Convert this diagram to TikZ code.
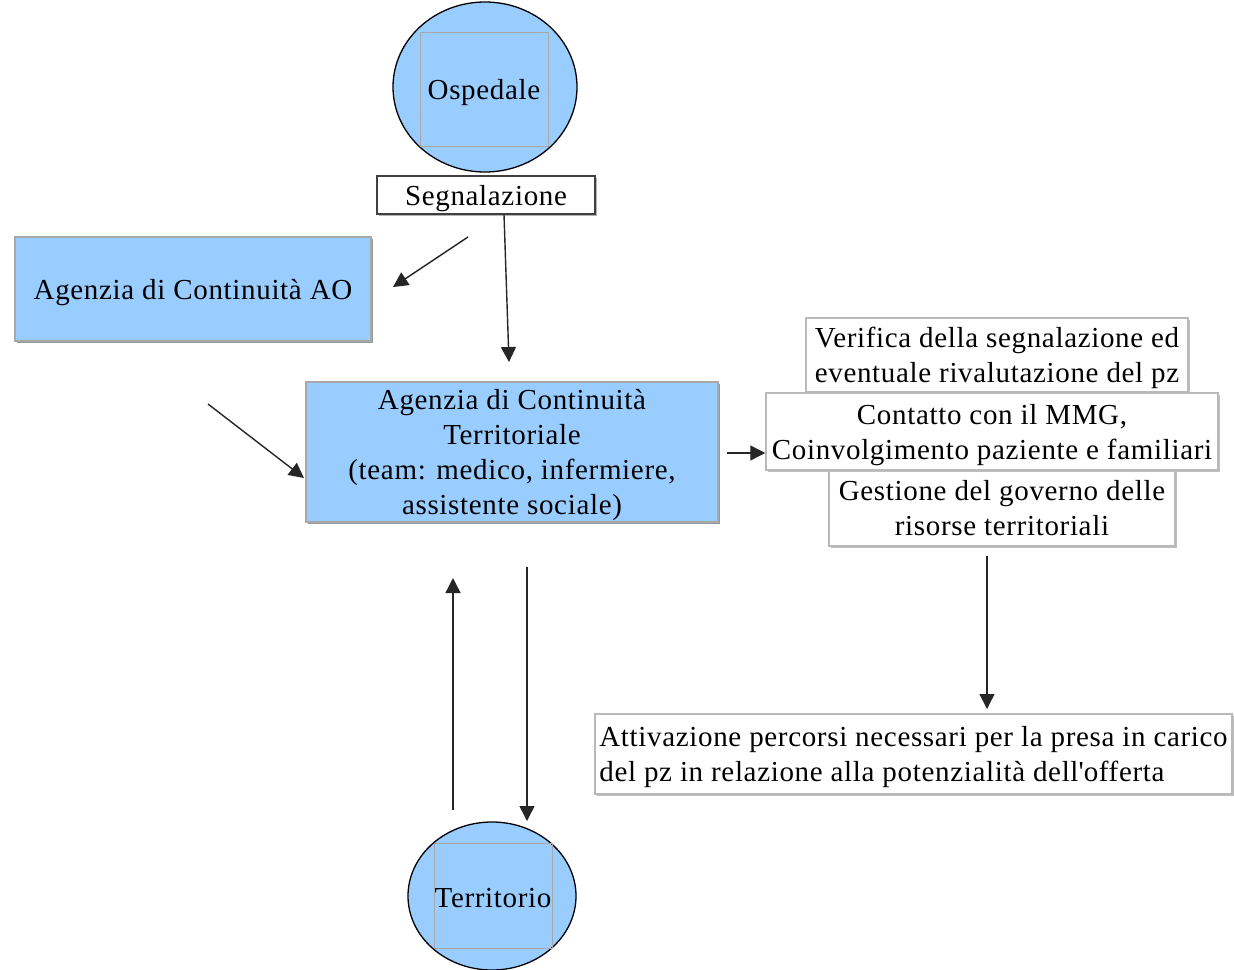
\documentclass[tikz,border=0pt]{standalone}
\usepackage{fontspec}
\setmainfont{Liberation Serif}[LetterSpace=2.3]
\usetikzlibrary{arrows.meta,shadows,shapes.geometric}
\definecolor{lblue}{HTML}{99CCFF}
\definecolor{bgray}{HTML}{A8A8A8}
\newcommand{\lowstrut}{\rule{0pt}{27pt}}
\begin{document}
\begin{tikzpicture}[x=1pt,y=-1pt,
  every node/.style={font=\fontsize{29}{35}\selectfont, inner sep=0pt},
  oval/.style={ellipse, draw=black, line width=1.3pt, fill=lblue},
  innersq/.style={draw=bgray, line width=1pt},
  bluebox/.style={rectangle, draw=bgray, line width=1.3pt, fill=lblue, align=center,
     general shadow={shadow xshift=2pt, shadow yshift=-2pt, fill=gray!80}},
  whitebox/.style={rectangle, draw=gray!55, line width=1.5pt, fill=white, align=center,
     general shadow={shadow xshift=1.5pt, shadow yshift=-1.5pt, fill=gray!50}},
  arr/.style={-{Triangle[width=15pt,length=15pt]}, line width=1.4pt, black!85}
]
\useasboundingbox (0,0) rectangle (1234,969);

% Ospedale
\node[oval, minimum width=184pt, minimum height=170pt] (osp) at (485,87) {};
\draw[innersq] (420,32) rectangle (548,146);
\node (ospt) at (484,93) {Ospedale};

% Territorio
\node[oval, minimum width=168pt, minimum height=148pt] (ter) at (492,896) {};
\draw[innersq] (434,843) rectangle (552,948);
\node (tert) at (493,898) {Territorio};

% Segnalazione
\node[rectangle, draw=black!75, line width=1.5pt, fill=white, minimum width=218pt, minimum height=38pt,
      general shadow={shadow xshift=1.5pt, shadow yshift=-1.5pt, fill=gray!60}] (sign) at (486,195) {\lowstrut Segnalazione};

% Agenzia AO
\node[bluebox, minimum width=356pt, minimum height=104pt] (ao) at (193,289) {\lowstrut Agenzia di Continuità AO};

% Central
\node[bluebox, minimum width=412pt, minimum height=140pt] (act) at (512,452)
  {\lowstrut Agenzia di Continuità\\Territoriale\\(team: medico, infermiere,\\assistente sociale)};

% Right boxes
\node[whitebox, minimum width=382pt, minimum height=74pt] (ver) at (997,355)
  {\lowstrut Verifica della segnalazione ed\\eventuale rivalutazione del pz};
\node[whitebox, minimum width=346pt, minimum height=76pt] (ges) at (1002,508)
  {Gestione del governo delle\\risorse territoriali};
\node[whitebox, minimum width=452pt, minimum height=77pt] (con) at (992,431.5)
  {\lowstrut Contatto con il MMG,\\Coinvolgimento paziente e familiari};

% Attivazione
\node[whitebox, minimum width=637pt, minimum height=80pt, align=left] (att) at (913.5,754)
  {\lowstrut Attivazione percorsi necessari per la presa in carico\\del pz in relazione alla potenzialità dell\textquotesingle offerta};

% connector end points
\coordinate (a1s) at (468,237);
\coordinate (a1e) at (393,287);
\coordinate (a2e) at (509,362);
\coordinate (a3s) at (208,404);
\coordinate (a3e) at (304,478);
\coordinate (a4s) at (727,453);
\coordinate (a5s) at (987,556);
\coordinate (a5e) at (987,709);
\coordinate (a6s) at (453,810);
\coordinate (a6e) at (453,578);
\coordinate (a7s) at (527,567);
\coordinate (a7e) at (527,821);

\draw[arr] (a1s) -- (a1e);
\draw[arr] (sign.south -| 504,0) -- (a2e);
\draw[arr] (a3s) -- (a3e);
\draw[arr] (a4s) -- (con.west |- a4s);
\draw[arr] (a5s) -- (a5e);
\draw[arr] (a6s) -- (a6e);
\draw[arr] (a7s) -- (a7e);
\end{tikzpicture}
\end{document}
